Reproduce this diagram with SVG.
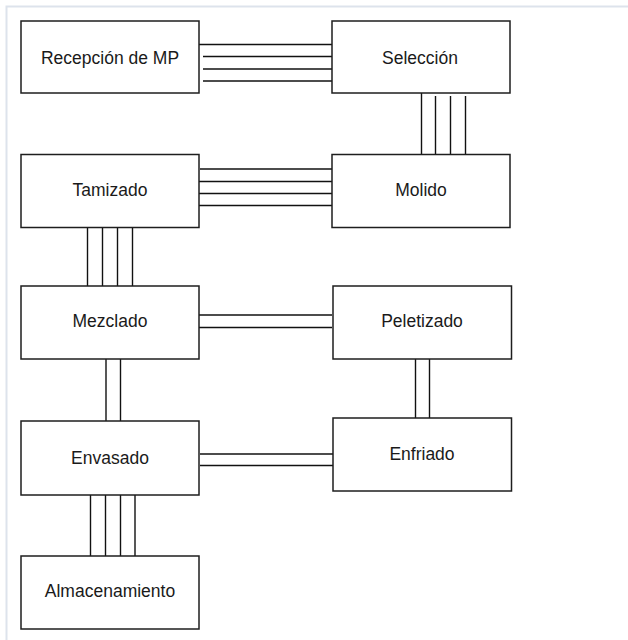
<svg xmlns="http://www.w3.org/2000/svg" width="628" height="640" viewBox="0 0 628 640">
<style>
.frame{fill:none;stroke:#dde3ec;stroke-width:2}
.box{fill:#fff;stroke:#1e1e1e;stroke-width:1.5}
.lbl{font-family:"Liberation Sans",Arial,sans-serif;font-size:17.5px;fill:#1a1a1a;text-anchor:middle}
.c line{stroke:#111;stroke-width:1.4}
</style>
<rect width="628" height="640" fill="#fff"/>
<path class="frame" d="M6.5,640 V6.5 H628"/>
<g id="connectors" class="c">
<line x1="199" y1="44.5" x2="332" y2="44.5"/>
<line x1="203" y1="56.5" x2="335" y2="56.5"/>
<line x1="203" y1="69" x2="335" y2="69"/>
<line x1="203" y1="81" x2="335" y2="81"/>
<line x1="421.5" y1="93" x2="421.5" y2="155"/>
<line x1="435.5" y1="96" x2="435.5" y2="155"/>
<line x1="450.5" y1="96" x2="450.5" y2="155"/>
<line x1="465.5" y1="96" x2="465.5" y2="155"/>
<line x1="200" y1="169" x2="333" y2="169"/>
<line x1="199" y1="181.5" x2="332" y2="181.5"/>
<line x1="199" y1="193.5" x2="332" y2="193.5"/>
<line x1="199" y1="205.5" x2="332" y2="205.5"/>
<line x1="87.5" y1="227" x2="87.5" y2="286"/>
<line x1="102.5" y1="227" x2="102.5" y2="286"/>
<line x1="117.5" y1="227" x2="117.5" y2="286"/>
<line x1="132.5" y1="227" x2="132.5" y2="286"/>
<line x1="199" y1="315" x2="332" y2="315"/>
<line x1="199" y1="327.5" x2="332" y2="327.5"/>
<line x1="106" y1="359" x2="106" y2="421"/>
<line x1="120.5" y1="359" x2="120.5" y2="421"/>
<line x1="415.5" y1="358" x2="415.5" y2="418"/>
<line x1="429.5" y1="358" x2="429.5" y2="418"/>
<line x1="200" y1="454" x2="333" y2="454"/>
<line x1="200" y1="465.5" x2="333" y2="465.5"/>
<line x1="90.5" y1="495" x2="90.5" y2="556"/>
<line x1="105.5" y1="495" x2="105.5" y2="556"/>
<line x1="120.5" y1="495" x2="120.5" y2="556"/>
<line x1="135" y1="495" x2="135" y2="556"/>
</g>
<g id="recepcion"><rect class="box" x="21" y="21" width="178" height="72"/><text class="lbl" x="110" y="63.5">Recepción de MP</text></g>
<g id="seleccion"><rect class="box" x="332" y="21" width="178" height="72"/><text class="lbl" x="420" y="63.5">Selección</text></g>
<g id="tamizado"><rect class="box" x="21" y="154.5" width="178" height="73"/><text class="lbl" x="110" y="195.5">Tamizado</text></g>
<g id="molido"><rect class="box" x="332" y="154.5" width="178" height="73"/><text class="lbl" x="421" y="195.5">Molido</text></g>
<g id="mezclado"><rect class="box" x="21" y="286" width="178" height="73"/><text class="lbl" x="110" y="327">Mezclado</text></g>
<g id="peletizado"><rect class="box" x="333" y="286" width="178.5" height="73"/><text class="lbl" x="422" y="327">Peletizado</text></g>
<g id="envasado"><rect class="box" x="21" y="421" width="178" height="74"/><text class="lbl" x="110" y="463.5">Envasado</text></g>
<g id="enfriado"><rect class="box" x="333" y="418" width="178.5" height="73"/><text class="lbl" x="422" y="459.5">Enfriado</text></g>
<g id="almacenamiento"><rect class="box" x="21" y="556" width="178" height="73"/><text class="lbl" x="110" y="597">Almacenamiento</text></g>
</svg>
